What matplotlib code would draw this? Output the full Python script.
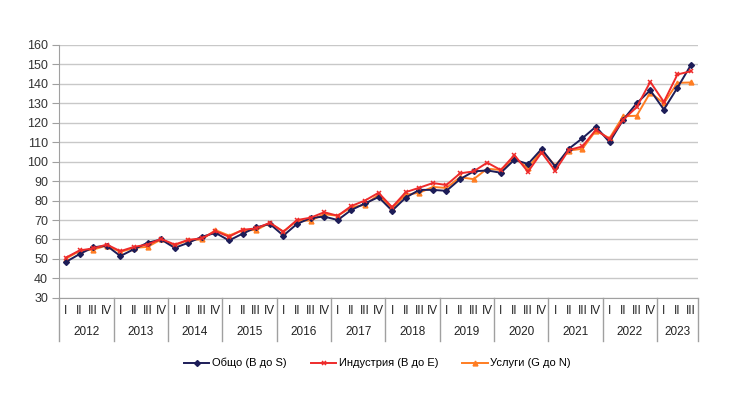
import numpy as np
import matplotlib
matplotlib.use("Agg")
import matplotlib.pyplot as plt
import matplotlib.transforms as mtransforms

plt.rcParams['font.family'] = ['Liberation Sans', 'DejaVu Sans']

# Данни по тримесечия, 2012 Q1 - 2023 Q3
years = [str(y) for y in range(2012, 2024)]
quarters = ["I", "II", "III", "IV"]

obshto = [48.5, 52.5, 56, 56.8,
          51.5, 55, 58.3, 60,
          55.7, 58.3, 61.4, 63.4,
          59.5, 63, 66.2, 68,
          62, 68, 71, 71.8,
          70, 75.2, 78.5, 81.8,
          74.8, 81.5, 85.5, 85.5,
          85, 91, 95, 95.5,
          94.3, 101, 98.8, 106.5,
          97.5, 106.6, 112, 118,
          110, 121.5, 130, 136.7,
          126.8, 138, 149.8]

industria = [50.7, 54.4, 55.4, 57.4,
             54, 56.2, 57.4, 60.3,
             57.4, 59.8, 60.6, 64.3,
             61.4, 65, 65.7, 68.6,
             64, 70, 71.2, 74,
             72.2, 77.2, 80, 84,
             76.6, 84.3, 86.6, 89,
             88, 94, 95, 99.5,
             95.7, 103.4, 94.8, 104.7,
             95.3, 106, 107.8, 116.4,
             111.5, 121.5, 128, 141,
             130.7, 144.8, 146.5]

uslugi = [50.2, 54.1, 54.8, 56.9,
          53.6, 55.7, 56.2, 60,
          57, 59.7, 60, 64.8,
          62, 64.8, 64.8, 68.6,
          64, 69.7, 69.7, 73,
          72.2, 76.5, 77.8, 83,
          76, 83, 84, 87,
          86.5, 92, 91, 96.4,
          95.7, 102, 96.7, 105.7,
          98, 105.7, 106.6, 116,
          112, 123.3, 123.6, 135.5,
          130, 140.5, 140.7]

labels = ["Общо (B до S)", "Индустрия (B до E)", "Услуги (G до N)"]

n = len(obshto)
x = np.arange(n)

fig = plt.figure(figsize=(7.4, 3.94), dpi=100)
ax = fig.add_axes([0.08, 0.244, 0.863, 0.642])

ax.plot(x, obshto, color="#1d1d58", lw=1.4, marker="D", ms=3, label=labels[0], zorder=3)
ax.plot(x, industria, color="#ee2b2b", lw=1.4, marker="x", ms=3, mew=1.1, label=labels[1], zorder=4)
ax.plot(x, uslugi, color="#ff7d22", lw=1.4, marker="^", ms=3.5, label=labels[2], zorder=2)

ax.set_ylim(30, 160)
ax.set_yticks(np.arange(30, 161, 10))
ax.set_xlim(-0.5, n - 0.5)
ax.set_xticks([])
ax.yaxis.grid(True, color="#c8c8c8", lw=1)
ax.set_axisbelow(True)
for s in ["top", "right"]:
    ax.spines[s].set_visible(False)
ax.spines["left"].set_color("#a0a0a0")
ax.spines["bottom"].set_color("#a0a0a0")
ax.tick_params(axis="y", direction="out", length=5, color="#a0a0a0",
               labelsize=9, labelcolor="#333333", pad=3)

# многостепенна категорийна ос: тримесечия и години
trans = mtransforms.blended_transform_factory(ax.transData, ax.transAxes)
for i in range(n):
    ax.text(i, -0.05, quarters[i % 4], transform=trans, ha="center", va="center",
            fontsize=8.5, color="#222222")
for k, yr in enumerate(years):
    start = k * 4 - 0.5
    end = min(k * 4 + 3.5, n - 0.5)
    ax.text((start + end) / 2, -0.135, yr, transform=trans, ha="center", va="center",
            fontsize=8.5, color="#222222")
bounds = [k * 4 - 0.5 for k in range(len(years))] + [n - 0.5]
for b in bounds:
    ax.plot([b, b], [0, -0.17], transform=trans, color="#a0a0a0", lw=1, clip_on=False)

fig.legend(loc="center", bbox_to_anchor=(0.51, 0.078), ncol=3, frameon=False,
           fontsize=8, handlelength=2.3, columnspacing=2.2, handletextpad=0.2)

fig.savefig("out.png", dpi=100)
